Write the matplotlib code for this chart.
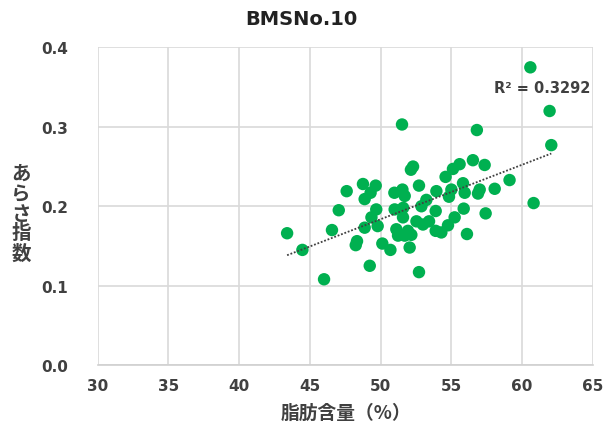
import numpy as np
import matplotlib
matplotlib.use("Agg")
import matplotlib.pyplot as plt

plt.rcParams['font.family'] = ['DejaVu Sans', 'Noto Sans CJK JP']

# fat content (%) vs roughness index
fat = [43.40, 44.48, 46.01, 46.57, 47.05, 47.61, 48.76, 49.66, 49.30, 48.88,
       48.34, 48.25, 49.24, 50.13, 50.70, 49.70, 49.36, 49.80, 48.88, 50.98,
       51.55, 51.71, 52.30, 52.15, 52.72, 52.72, 52.06, 51.12, 51.24, 51.71,
       52.18, 51.00, 51.59, 52.54, 53.00, 53.90, 53.95, 53.90, 56.53, 57.36,
       55.59, 55.12, 54.60, 59.12, 55.83, 55.01, 55.95, 57.01, 56.89, 58.07,
       54.84, 53.24, 52.89, 55.88, 57.43, 55.24, 53.43, 54.77, 54.30, 56.11,
       62.07, 60.82, 61.95, 60.59, 51.52, 56.81, 51.60, 51.94]
rough = [0.166, 0.145, 0.108, 0.170, 0.195, 0.219, 0.228, 0.226, 0.217, 0.209,
         0.156, 0.151, 0.125, 0.153, 0.145, 0.196, 0.186, 0.175, 0.173, 0.217,
         0.221, 0.213, 0.250, 0.246, 0.226, 0.117, 0.148, 0.171, 0.163, 0.163,
         0.164, 0.196, 0.186, 0.181, 0.177, 0.194, 0.219, 0.169, 0.258, 0.252,
         0.253, 0.247, 0.237, 0.233, 0.229, 0.221, 0.217, 0.221, 0.216, 0.222,
         0.212, 0.208, 0.200, 0.197, 0.191, 0.186, 0.181, 0.176, 0.167, 0.165,
         0.277, 0.204, 0.320, 0.375, 0.303, 0.296, 0.198, 0.169]
xticks = [30, 35, 40, 45, 50, 55, 60, 65]
yticks = [0.0, 0.1, 0.2, 0.3, 0.4]
r2_text = "R² = 0.3292"

GREEN = "#00B050"
TXT = "#404040"

fig = plt.figure(figsize=(6.03, 4.31), dpi=100)
ax = fig.add_axes([0.1617, 0.1508, 0.8213, 0.7367])
ax.scatter(fat, rough, s=80, color=GREEN, edgecolor="none", zorder=3)

k, b = np.polyfit(fat, rough, 1)
xs = np.array([min(fat), max(fat)])
ax.plot(xs, k * xs + b, ls=(0, (1, 1)), color="#404040", lw=1.3, zorder=4)

ax.set_xlim(30, 65); ax.set_ylim(0, 0.4)
ax.set_xticks(xticks); ax.set_yticks(yticks)
ax.set_xticklabels([str(t) for t in xticks], fontsize=11, fontweight="bold", color=TXT)
ax.set_yticklabels([f"{t:.1f}" for t in yticks], fontsize=11, fontweight="bold", color=TXT)
ax.tick_params(length=0, pad=9)
ax.tick_params(axis="y", pad=21)
ax.grid(True, color="#d9d9d9", lw=1.2)
ax.set_axisbelow(True)
for sp in ("top", "right", "left"): ax.spines[sp].set_visible(False)
ax.spines["bottom"].set_color("#d0d0d0"); ax.spines["bottom"].set_linewidth(1.2)

ax.text(61.45, 0.350, r2_text, ha="center", va="center", fontsize=10.5,
        fontweight="bold", color=TXT, zorder=5)

fig.text(0.5, 0.955, "BMSNo.10", ha="center", va="center", fontsize=14,
         fontweight="bold", color="#222222")
fig.text(0.574, 0.042, "脂肪含量（%）", ha="center", va="center", fontsize=13.5,
         fontweight="bold", color=TXT, family=["Noto Sans CJK JP", "DejaVu Sans"])
fig.text(0.035, 0.503, "\n".join("あらさ指数"), ha="center", va="center", fontsize=14,
         fontweight="bold", color=TXT, linespacing=1.05,
         family=["Noto Sans CJK JP", "DejaVu Sans"])

fig.savefig("out.png", dpi=100)
